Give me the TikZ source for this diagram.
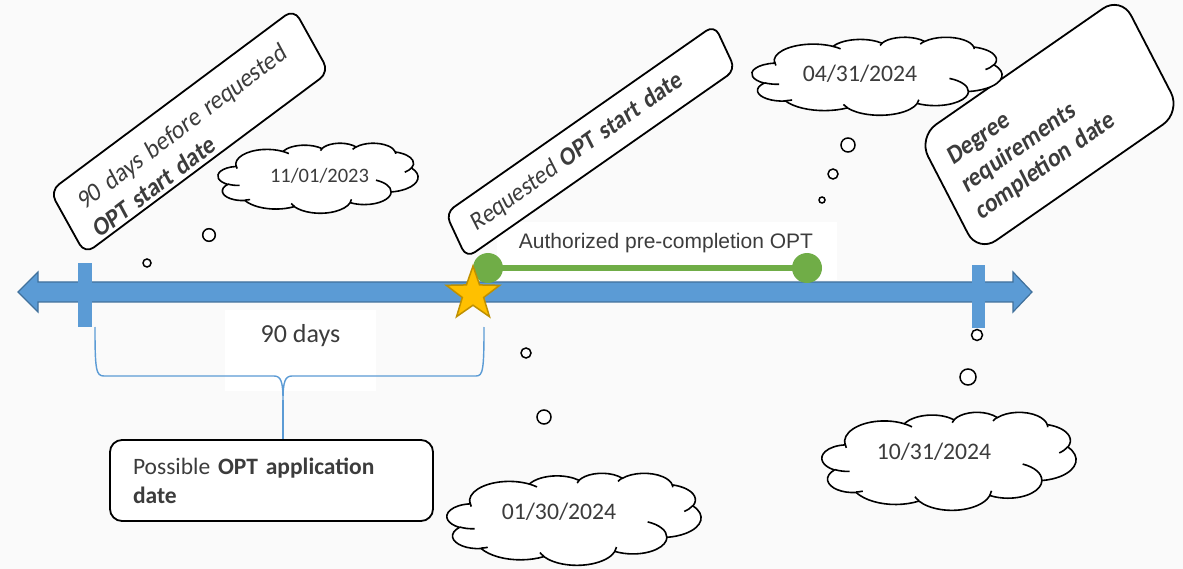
\documentclass[tikz,border=0pt]{standalone}
\usepackage{fontspec}
\setmainfont{Carlito}
\newfontfamily\arialf{Liberation Sans}
\usetikzlibrary{shapes.geometric}
\definecolor{bg}{HTML}{FAFAFA}
\definecolor{axisblue}{HTML}{5B9BD5}
\definecolor{axisedge}{HTML}{41719C}
\definecolor{optgreen}{HTML}{70AD47}
\definecolor{stary}{HTML}{FFC000}
\definecolor{stare}{HTML}{BF9000}
\definecolor{txt}{HTML}{3C3C3C}
% elliptical arc with DrawingML-style (visual) angles
\newcommand\carc[4]{\pgfextra{%
  \pgfmathsetmacro\cA{atan2((#3)*sin(#1),(#4)*cos(#1))}%
  \pgfmathsetmacro\cB{atan2((#3)*sin((#1)+(#2)),(#4)*cos((#1)+(#2)))}%
  \pgfmathsetmacro\cD{mod(\cB-\cA+720,360)}}
  arc[start angle=\cA, delta angle=\cD, x radius=#3, y radius=#4]}
% PowerPoint-like cloud: top-left x, y, width, height
\newcommand\pptcloud[4]{%
 \begin{scope}[shift={(#1,#2)}, xscale=#3/432, yscale=#4/432]
  \filldraw[cloudline] (39,143.7)
   \carc{-190.487}{123.781}{67.53}{91.90}
   \carc{-144.102}{89.945}{53.33}{72.67}
   \carc{-145.808}{99.723}{43.65}{59.45}
   \carc{-130.986}{117.242}{48.57}{65.95}
   \carc{-78.709}{109.027}{53.33}{72.73}
   \carc{-46.267}{130.269}{67.75}{92.20}
   \carc{0.625}{114.033}{57.85}{78.67}
   \carc{22.452}{115.173}{67.52}{92.15}
   \carc{66.243}{75.711}{77.20}{105.43}
   \carc{-274.942}{146.736}{43.60}{59.18}
   \carc{-246.829}{152.519}{43.45}{59.45} -- cycle;
  \draw[cloudline, fill=none]
   (46.93,261.77) \carc{86.742}{26.430}{43.45}{59.45}
   (69.28,348.99) \carc{73.610}{11.447}{43.60}{59.18}
   (164.78,390.90) \carc{137.624}{14.081}{67.52}{92.15}
   (288.27,347.51) \carc{6.453}{15.998}{67.52}{92.15}
   (341.29,229.54) \carc{-70.292}{70.917}{57.85}{78.67}
   (417.98,153.54) \carc{30.318}{27.752}{53.33}{72.73}
   (383.24,54.26) \carc{-13.744}{14.859}{48.57}{65.95}
   (290.78,39.52) \carc{-149.181}{18.195}{48.57}{65.95}
   (221.41,47.20) \carc{-163.494}{17.686}{43.65}{59.45}
   (140.00,51.92) \carc{-66.707}{12.319}{67.53}{91.90}
   (41.27,157.89) \carc{160.087}{17.245}{67.53}{91.90};
 \end{scope}}
\begin{document}
\begin{tikzpicture}[x=1pt,y=-1pt,
 callout/.style={draw=black, line width=1.8pt, fill=white, rounded corners=12pt, align=left, text=txt, inner ysep=2pt},
 calloutline/.style={draw=black, line width=1.8pt, fill=white, line join=round},
 callouttext/.style={align=left, text=txt, inner ysep=2pt},
 cloudline/.style={draw=black, line width=1.6pt, fill=white},
 bubble/.style={circle, draw=black, line width=1.5pt, fill=white, inner sep=0pt},
 datetext/.style={text=txt, inner sep=0pt},
 gdot/.style={circle, fill=optgreen, minimum size=30pt, inner sep=0pt},
 tickbar/.style={fill=axisblue},
]
\useasboundingbox (0,0) rectangle (1183,569);
\fill[bg] (0,0) rectangle (1183,569);

% white area behind "90 days"
\fill[white] (225,310) rectangle (376,391);
\node[text=txt, inner sep=0pt, font=\fontsize{26}{30}\selectfont] (ninety) at (300.5,336) {90 days};

% application box
\node[callout, minimum width=323pt, minimum height=81pt, text width=277pt, inner xsep=23pt, font=\fontsize{23.5}{29}\selectfont] (app) at (271.5,480.5) {Possible \textbf{OPT application}\\ \textbf{date}};

% brace
\coordinate (braceTip) at (283,400);
\draw[axisblue, line width=1.4pt]
  (95,327) .. controls (95,370) and (96,376) .. (104,376) -- (274,376)
  .. controls (281,376) and (283,382) .. (braceTip)
  .. controls (283,382) and (285,376) .. (292,376) -- (476,376)
  .. controls (483,376) and (484,370) .. (484,327);
\draw[axisblue, line width=1.4pt] (braceTip) -- (app.north -| braceTip);

% axis double arrow
\filldraw[fill=axisblue, draw=axisedge, line width=1.2pt]
  (18,292) -- (38,272) -- (38,282) -- (1013,282) -- (1013,272) -- (1032,292)
  -- (1013,312) -- (1013,302) -- (38,302) -- (38,312) -- cycle;
\fill[tickbar] (78,263) rectangle (92,327);
\fill[tickbar] (972,265) rectangle (985,328);

% authorized label
\fill[white] (497,222) rectangle (837,280);
\node[text=txt, inner sep=0pt, font=\arialf\fontsize{21}{25}\selectfont] (auth) at (666,243) {Authorized pre-completion OPT};
\node[gdot] (g1) at (488,268) {};
\node[gdot] (g2) at (807,268) {};
\draw[optgreen, line width=6.5pt] (g1.center) -- (g2.center);

% star
\node[star, star points=5, star point ratio=2.5, minimum size=56pt, inner sep=0pt, fill=stary, draw=stare, line width=1.5pt] (st) at (473,294) {};

% callout outlines (slanted rounded boxes)
\draw[calloutline, rounded corners=11pt] (50,191) -- (294,9) -- (329,72) -- (85,254) -- cycle;
\draw[calloutline, rounded corners=10pt] (445.5,213) -- (714.5,25) -- (735.5,70) -- (466.5,258) -- cycle;
\draw[calloutline, rounded corners=22pt] (918,137) -- (1121,-4) -- (1181,112) -- (978,253) -- cycle;

% callout texts (rotated, then squeezed horizontally as in the reference)
\begin{scope}[shift={(199,133)}, xscale=0.845]
\node[callouttext, transform shape, rotate=32.5, text width=313pt, inner xsep=15pt, font=\fontsize{27}{33}\selectfont] (boxA) at (0,0) {90 days before requested\\ \textbf{OPT start date}};
\end{scope}
\begin{scope}[shift={(591.5,141.5)}, xscale=0.845]
\node[callouttext, transform shape, rotate=31, text width=325pt, inner xsep=20pt, font=\fontsize{26.5}{33}\selectfont] (boxB) at (0,0) {Requested \textbf{OPT start date}};
\end{scope}
\begin{scope}[shift={(1052,125)}, xscale=0.845]
\node[callouttext, transform shape, rotate=31, text width=242pt, inner xsep=19pt, font=\bfseries\fontsize{27}{32}\selectfont] (boxC) at (0,0) {Degree\\requirements\\completion date};
\end{scope}

% clouds
\pptcloud{218}{143}{200}{70}
\pptcloud{752}{37}{250}{78}
\pptcloud{447}{473}{254}{92}
\pptcloud{822}{412}{254}{98}
\node[datetext, font=\fontsize{20.5}{24}\selectfont] (d1) at (319.5,176) {11/01/2023};
\node[datetext, font=\fontsize{23.7}{28}\selectfont] (d2) at (860,74) {04/31/2024};
\node[datetext, font=\fontsize{23.7}{28}\selectfont] (d3) at (559,512) {01/30/2024};
\node[datetext, font=\fontsize{23.7}{28}\selectfont] (d4) at (934,452) {10/31/2024};

% thought bubbles
\node[bubble, minimum size=12.6pt] (b1) at (209,235) {};
\node[bubble, minimum size=8pt] (b2) at (147,263) {};
\node[bubble, minimum size=10pt] (b3) at (526,353) {};
\node[bubble, minimum size=14pt] (b4) at (544,417) {};
\node[bubble, minimum size=14pt] (b5) at (848,145) {};
\node[bubble, minimum size=10pt] (b6) at (833,174) {};
\node[bubble, minimum size=6pt] (b7) at (822,200) {};
\node[bubble, minimum size=11pt] (b8) at (977,335) {};
\node[bubble, minimum size=16pt] (b9) at (968,377) {};
\end{tikzpicture}
\end{document}
